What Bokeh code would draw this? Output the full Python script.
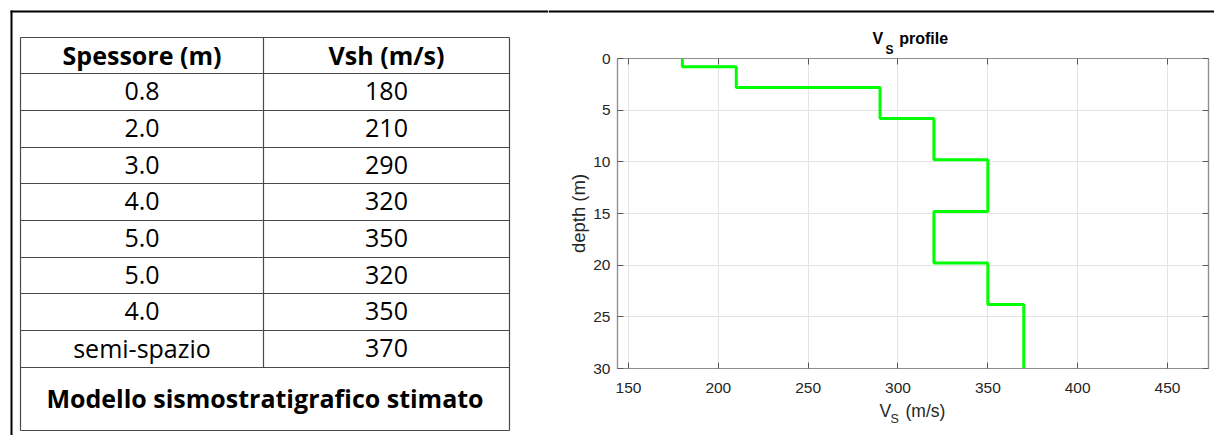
import numpy as np
from bokeh.plotting import figure
from bokeh.models import Range1d, FixedTicker, LinearAxis, CustomJSTickFormatter, Title
from bokeh.layouts import column, row
from bokeh.core.properties import value
from bokeh.embed import file_html
from bokeh.resources import INLINE

# ---------------- data ----------------
header = ["Spessore (m)", "Vsh (m/s)"]
thickness_labels = ["0.8", "2.0", "3.0", "4.0", "5.0", "5.0", "4.0", "semi-spazio"]
thickness = [0.8, 2.0, 3.0, 4.0, 5.0, 5.0, 4.0]
vsh = [180, 210, 290, 320, 350, 320, 350, 370]
caption = "Modello sismostratigrafico stimato"
title_main, title_sub, title_rest = "V", "S", "profile"
xlabel_main, xlabel_sub, xlabel_rest = "V", "S", "(m/s)"
ylabel = "depth (m)"
x_ticks = [150, 200, 250, 300, 350, 400, 450]
y_ticks = [0, 5, 10, 15, 20, 25, 30]
max_depth = 30
x_limits = (143.9, 472.8)

# ---------------- geometry (page pixels) ----------------
PAGE_W, PAGE_H = 1214, 435
TABLE_W = 548
RIGHT_W = PAGE_W - TABLE_W
TOP_H = 25
XLAB_H = 37
CHART_H = PAGE_H - TOP_H - XLAB_H
FRAME_L, FRAME_R, FRAME_T, FRAME_B = 617, 1208, 58, 368
BASE_FIX = 4.5  # text glyph baseline correction

TXT = "#262626"
AX = "#8f8f8f"
GRID = "#e4e4e4"
SANS = "Liberation Sans"
TFONT = "Open Sans"
TSIZE = "25px"


def canvas(w, h):
    f = figure(width=w, height=h, x_range=Range1d(0, w), y_range=Range1d(h, 0),
               x_axis_type=None, y_axis_type=None, toolbar_location=None, output_backend="svg",
               min_border=0, outline_line_color=None, title=None, frame_align=False)
    f.grid.visible = False
    return f


# ---------------- table ----------------
t = canvas(TABLE_W, PAGE_H)
tl, tr, tm = 20, 509, 263
edges = [37, 73, 110, 147, 183, 220, 257, 293, 330, 367, 430]

# outer border (top + left)
t.segment(x0=[10, 11], y0=[11, 10], x1=[TABLE_W, 11], y1=[11, PAGE_H], line_color="black", line_width=2)
# horizontal rules
t.segment(x0=[tl] * len(edges), y0=edges, x1=[tr] * len(edges), y1=edges, line_color="#4a4a4a", line_width=1.2)
# vertical rules
t.segment(x0=[tl, tr, tm], y0=[edges[0]] * 3, x1=[tl, tr, tm], y1=[edges[-1], edges[-1], edges[-2]],
          line_color="#4a4a4a", line_width=1.2)

c1, c2 = (tl + tm) / 2, (tm + tr) / 2
centers = [(edges[i] + edges[i + 1]) / 2 - 1 for i in range(len(edges) - 1)]

t.text(x=[c1, c2], y=[centers[0]] * 2, text=header, text_align="center", text_baseline="middle",
       text_font=value(TFONT), text_font_style="bold", text_font_size=TSIZE, text_color="black")
n = len(thickness_labels)
t.text(x=[c1] * n, y=centers[1:1 + n], text=thickness_labels, text_align="center", text_baseline="middle",
       text_font=value(TFONT), text_font_size=TSIZE, text_color="black")
t.text(x=[c2] * n, y=centers[1:1 + n], text=[str(v) for v in vsh], text_align="center", text_baseline="middle",
       text_font=value(TFONT), text_font_size=TSIZE, text_color="black")
t.text(x=[(tl + tr) / 2], y=[centers[-1]], text=[caption], text_align="center", text_baseline="middle",
       text_font=value(TFONT), text_font_style="bold", text_font_size=TSIZE, text_color="black")

# ---------------- top border strip over the chart ----------------
ox = TABLE_W
ts = canvas(RIGHT_W, TOP_H)
ts.segment(x0=[0], y0=[11], x1=[RIGHT_W], y1=[11], line_color="black", line_width=2)

# ---------------- chart ----------------
c = figure(width=RIGHT_W, height=CHART_H, x_range=Range1d(*x_limits), y_range=Range1d(max_depth, 0),
           toolbar_location=None, output_backend="svg", title=None, frame_align=False,
           min_border_left=FRAME_L - TABLE_W, min_border_right=PAGE_W - FRAME_R,
           min_border_top=FRAME_T - TOP_H, min_border_bottom=(TOP_H + CHART_H) - FRAME_B)
c.outline_line_color = AX
c.outline_line_width = 1.2

for ax in c.xaxis:
    ax.ticker = FixedTicker(ticks=x_ticks)
for ax in c.yaxis:
    ax.ticker = FixedTicker(ticks=y_ticks)


def style_axis(ax, standoff):
    ax.major_tick_in = 6
    ax.major_tick_out = 0
    ax.minor_tick_line_color = None
    ax.axis_line_color = AX
    ax.axis_line_width = 1.2
    ax.major_tick_line_color = "#5a5a5a"
    ax.major_label_text_font = SANS
    ax.major_label_text_font_size = "15.5px"
    ax.major_label_text_color = TXT
    ax.major_label_standoff = standoff


style_axis(c.xaxis[0], 14)
style_axis(c.yaxis[0], 7)
c.yaxis[0].axis_label = ylabel
c.yaxis[0].axis_label_text_font = SANS
c.yaxis[0].axis_label_text_font_size = "18.5px"
c.yaxis[0].axis_label_text_font_style = "normal"
c.yaxis[0].axis_label_text_color = TXT
c.yaxis[0].axis_label_standoff = 1

blank = CustomJSTickFormatter(code="return ''")
top_ax = LinearAxis(ticker=FixedTicker(ticks=x_ticks), formatter=blank)
right_ax = LinearAxis(ticker=FixedTicker(ticks=y_ticks), formatter=blank)
for ax in (top_ax, right_ax):
    style_axis(ax, 0)
    ax.major_label_text_font_size = "0px"
c.add_layout(top_ax, "above")
c.add_layout(right_ax, "right")

# title: subscript row (closest to frame) and main row above it
c.add_layout(Title(text=title_sub, align="left", offset=885 - FRAME_L, standoff=4,
                   text_font=SANS, text_font_style="bold", text_font_size="12px", text_color="black"), "above")
c.add_layout(Title(text=title_main + "\u2003" + title_rest, align="left", offset=872 - FRAME_L, standoff=-16,
                   text_font=SANS, text_font_style="bold", text_font_size="16px", text_color="black"), "above")

c.xgrid.ticker = FixedTicker(ticks=x_ticks)
c.ygrid.ticker = FixedTicker(ticks=y_ticks)
c.grid.grid_line_color = GRID
c.grid.grid_line_width = 1

tops = np.concatenate([[0.0], np.cumsum(thickness)])
bottoms = np.append(np.cumsum(thickness), max_depth)
xs = np.repeat(vsh, 2)
ys = np.column_stack([tops, bottoms]).ravel()
c.line(xs, ys, line_color="#00ff00", line_width=3)

# ---------------- x-axis label strip ----------------
xl = canvas(RIGHT_W, XLAB_H)
oy = TOP_H + CHART_H
xl.text(x=[879 - ox, 905 - ox], y=[415 - oy - BASE_FIX] * 2, text=[xlabel_main, xlabel_rest], text_align="left",
        text_baseline="alphabetic", text_font=value(SANS), text_font_size="17.5px", text_color=TXT)
xl.text(x=[890 - ox], y=[423 - oy - BASE_FIX], text=[xlabel_sub], text_align="left", text_baseline="alphabetic",
        text_font=value(SANS), text_font_size="12.5px", text_color=TXT)

layout = row(t, column(ts, c, xl))
open("out.html", "w").write(file_html(layout, INLINE))
